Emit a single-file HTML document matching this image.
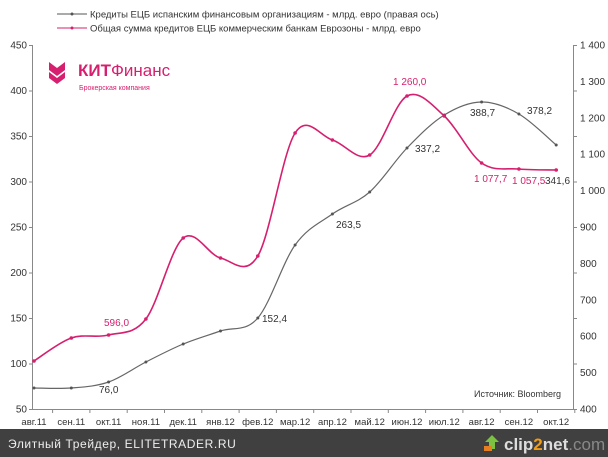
<!DOCTYPE html>
<html><head><meta charset="utf-8"><style>
body{margin:0;background:#fff;width:608px;height:457px;overflow:hidden;font-family:"Liberation Sans",sans-serif}
</style></head><body>
<svg width="608" height="457" xmlns="http://www.w3.org/2000/svg" style="display:block;font-family:'Liberation Sans',sans-serif">
<rect width="608" height="457" fill="#fff"/>
<line x1="57" y1="14" x2="87" y2="14" stroke="#555" stroke-width="1"/><circle cx="72" cy="14" r="1.5" fill="#555"/>
<text x="90" y="17.5" font-size="9.5" fill="#333">Кредиты ЕЦБ испанским финансовым организациям - млрд. евро (правая ось)</text>
<line x1="57" y1="28" x2="87" y2="28" stroke="#d61f6e" stroke-width="1"/><circle cx="72" cy="28" r="1.5" fill="#d61f6e"/>
<text x="90" y="31.5" font-size="9.5" fill="#333">Общая сумма кредитов ЕЦБ коммерческим банкам Еврозоны - млрд. евро</text>
<g fill="#d61f6e">
<polygon points="49,62 57,68 65,62 65,70 57,76 49,70"/>
<polygon points="49,72 57,78 65,72 65,78 57,84 49,78"/>
</g>
<text x="78" y="76" font-size="17" font-weight="bold" fill="#d61f6e">КИТ<tspan font-weight="normal">Финанс</tspan></text>
<text x="79" y="90" font-size="7" fill="#d61f6e">Брокерская компания</text>
<g stroke="#888" stroke-width="1" fill="none">
<line x1="32.5" y1="45" x2="32.5" y2="409"/>
<line x1="573.5" y1="45" x2="573.5" y2="409"/>
<line x1="32" y1="409.5" x2="574" y2="409.5"/>
</g>
<g id="ticks" stroke="#888"></g>
<g font-size="10" fill="#333" text-anchor="end" id="ly"></g>
<g font-size="10" fill="#333" id="ry"></g>
<g font-size="9.5" fill="#333" text-anchor="middle" id="xl"></g>
<path id="gp" fill="none" stroke="#666" stroke-width="1.2"/>
<path id="pp" fill="none" stroke="#d61f6e" stroke-width="1.6"/>
<g id="pts"></g>
<g font-size="10" fill="#d61f6e">
<text x="104" y="326">596,0</text><text x="393" y="85">1 260,0</text>
<text x="474" y="182">1 077,7</text><text x="512" y="184">1 057,5</text>
</g>
<g font-size="10" fill="#333">
<text x="99" y="393">76,0</text><text x="262" y="322">152,4</text><text x="336" y="228">263,5</text>
<text x="415" y="152">337,2</text><text x="470" y="116">388,7</text><text x="527" y="114">378,2</text>
<text x="545" y="184">341,6</text>
</g>
<text x="561" y="397" font-size="9" fill="#333" text-anchor="end">Источник: Bloomberg</text>
<rect x="0" y="429" width="608" height="28" fill="#404040"/>
<text x="8" y="448" font-size="12" fill="#eee" letter-spacing="0.6">Элитный Трейдер, ELITETRADER.RU</text>
<text x="504" y="450" font-size="17" font-weight="bold" fill="#ddd">clip<tspan fill="#f39c12">2</tspan>net<tspan fill="#888" font-weight="normal">.com</tspan></text>
<polygon points="492,435 499,442 495,442 495,449 489,449 489,442 485,442" fill="#7cc142"/>
<rect x="484" y="446" width="8" height="5" fill="#e67e22"/>
</svg>
<script>
var ns="http://www.w3.org/2000/svg";
function el(p,t,a,txt){var e=document.createElementNS(ns,t);for(var k in a)e.setAttribute(k,a[k]);if(txt)e.textContent=txt;document.getElementById(p).appendChild(e);}
var L=[450,400,350,300,250,200,150,100,50];
L.forEach(function(v,i){var y=45+i*45.5;el('ly','text',{x:27,y:y+3.5},v);el('ticks','line',{x1:29,x2:32,y1:y+0.5,y2:y+0.5});el('ticks','line',{x1:573,x2:577,y1:y+0.5,y2:y+0.5});});
for(var i=0;i<=10;i++){var v=1400-i*100,y=45+i*36.4;el('ry','text',{x:580,y:y+3.5},(v>=1000?Math.floor(v/1000)+" "+String(v%1000).padStart(3,"0"):v));}
var M=["авг.11","сен.11","окт.11","ноя.11","дек.11","янв.12","фев.12","мар.12","апр.12","май.12","июн.12","июл.12","авг.12","сен.12","окт.12"];
var xs=M.map(function(m,i){return 34+i*37.3;});
M.forEach(function(m,i){el('xl','text',{x:xs[i],y:425},m);el('ticks','line',{x1:xs[i]+18.6,x2:xs[i]+18.6,y1:409,y2:413});});
var P=[361,338,335,319,238,258,256,133,140,155,96,116,163,169,170];
var G=[388,388,382,362,344,331,318,245,214,192,148,115,102,114,145];
function path(ys){var p=xs.map(function(x,i){return[x,ys[i]];});var d="M"+p[0];for(var i=0;i<p.length-1;i++){var a=p[i-1]||p[i],b=p[i],c=p[i+1],e=p[i+2]||c;d+=" C"+(b[0]+(c[0]-a[0])/6)+","+(b[1]+(c[1]-a[1])/6)+" "+(c[0]-(e[0]-b[0])/6)+","+(c[1]-(e[1]-b[1])/6)+" "+c;}return d;}
document.getElementById('gp').setAttribute('d',path(G));
document.getElementById('pp').setAttribute('d',path(P));
xs.forEach(function(x,i){el('pts','circle',{cx:x,cy:G[i],r:1.5,fill:'#555'});el('pts','circle',{cx:x,cy:P[i],r:1.8,fill:'#d61f6e'});});
</script>
</body></html>
